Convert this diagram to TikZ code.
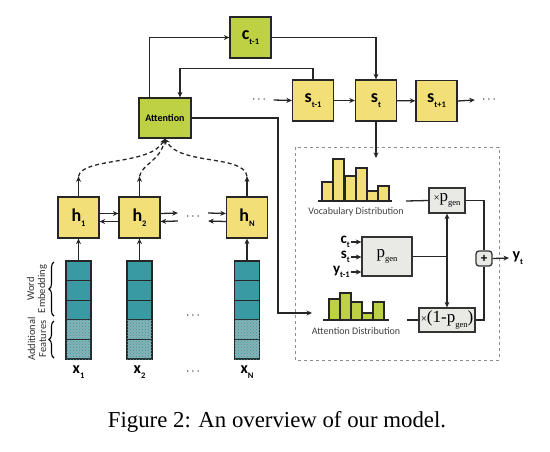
\documentclass[tikz,border=0pt]{standalone}
\usepackage{fontspec}
\setmainfont{Liberation Serif}
\newfontfamily\labelfont{Carlito}
\usetikzlibrary{arrows.meta,positioning,decorations.pathreplacing,patterns}
\definecolor{stateyellow}{HTML}{F2DF78}
\definecolor{attgreen}{HTML}{BDD143}
\definecolor{embteal}{HTML}{3A9AA4}
\definecolor{featgray}{HTML}{86B2B6}
\definecolor{gengray}{HTML}{E9E9E5}
\newcommand{\idx}[1]{\raisebox{-0.28em}{\fontsize{8.5}{8.5}\selectfont #1}}

\begin{document}
\begin{tikzpicture}[x=1pt, y=-1pt, font=\labelfont,
  statebox/.style={draw=black!85, line width=1.3pt, fill=stateyellow, minimum size=41pt, inner sep=0pt, font=\labelfont\bfseries\fontsize{18}{18}\selectfont},
  ctxbox/.style={statebox, fill=attgreen},
  gatebox/.style={draw=black!80, line width=1.3pt, fill=gengray, inner sep=0pt, font=\rmfamily\fontsize{17}{17}\selectfont},
  cell/.style={draw=black!85, line width=1.1pt, minimum width=25pt, minimum height=19.6pt, inner sep=0pt, fill=embteal},
  feat/.style={cell, fill=featgray, postaction={pattern=crosshatch dots, pattern color=embteal}},
  barbox/.style={draw=black!85, line width=1.2pt},
  conn/.style={line width=1.3pt, draw=black!85},
  arr/.style={conn, -{Stealth[length=5.5pt,width=5pt]}},
  dasharr/.style={arr, dash pattern=on 4pt off 3pt},
  dist/.style={font=\labelfont\fontsize{10}{10}\selectfont, text=black!75},
  sidelab/.style={rotate=90, align=center, font=\labelfont\fontsize{10.5}{11}\selectfont, text=black!80},
  inlab/.style={font=\labelfont\bfseries\fontsize{15}{15}\selectfont, inner sep=1pt},
  ellip/.style={font=\fontsize{12}{12}\selectfont}]
  \useasboundingbox (0,0) rectangle (550,451);

  % decoder side
  \node[ctxbox] (ctm) at (250.5,37.5) {c\idx{t-1}};
  \node[ctxbox, minimum width=52pt, minimum height=40pt, font=\labelfont\bfseries\fontsize{10}{10}\selectfont] (att) at (165,118) {Attention};
  \node[statebox] (stm) at (313,100.5) {s\idx{t-1}};
  \node[statebox] (st) at (376,100.5) {s\idx{t}};
  \node[statebox] (stp) at (436.5,101) {s\idx{t+1}};
  \node[ellip, inner xsep=7.5pt] (sdl) at (259,100) {$\cdots$};
  \node[ellip, inner xsep=7pt] (sdr) at (489,100) {$\cdots$};
  \draw[arr] (sdl.east) -- (stm.west);
  \draw[arr] (stm) -- (st);
  \draw[arr] (st) -- (stp);
  \draw[arr] (stp.east) -- (sdr.west);
  \draw[arr] ([xshift=11pt]att.north west) |- (ctm.west);
  \draw[arr] (ctm.east) -| (st.north);
  \coordinate (attin) at ([xshift=15pt]att.north);
  \draw[arr] (stm.north) -- ++(0,-11) -| (attin);

  % encoder side
  \node[statebox] (h1) at (78.5,217.5) {h\idx{1}};
  \node[statebox] (h2) at (139.5,217.5) {h\idx{2}};
  \node[statebox] (hN) at (247,217.5) {h\idx{N}};
  \node[ellip, inner xsep=8pt] (hdots) at (193,217) {$\cdots$};
  \draw[arr] ([yshift=4pt]h1.east) -- ([yshift=4pt]h2.west);
  \draw[arr] ([yshift=-4pt]h2.west) -- ([yshift=-4pt]h1.east);
  \draw[arr] ([yshift=4pt]h2.east) -- ([yshift=4pt]hdots.west);
  \draw[arr] ([yshift=-4pt]hdots.west) -- ([yshift=-4pt]h2.east);
  \draw[arr] ([yshift=4pt]hdots.east) -- ([yshift=4pt]hN.west);
  \draw[arr] ([yshift=-4pt]hN.west) -- ([yshift=-4pt]hdots.east);

  \foreach \i/\cx in {1/78.5, 2/139.5, N/247}{
    \foreach \k in {1,2,3}
      \node[cell] (v\i-\k) at (\cx,251.2+19.6*\k) {};
    \foreach \k in {4,5}
      \node[feat] (v\i-\k) at (\cx,251.2+19.6*\k) {};
    \draw[arr] (v\i-1.north) -- (h\i.south);
    \draw[arr] (h\i.north) -- ++(0,-20) coordinate (up\i);
    \node[font=\labelfont\bfseries\fontsize{16}{16}\selectfont] (x\i) at (\cx,372) {x\idx{\i}};
  }
  \node[ellip] (vdots) at (193,316) {$\cdots$};
  \node[ellip] (xdots) at (193,372) {$\cdots$};

  \draw[dasharr] (up1) .. controls +(3.5,-19) and +(-15,27) .. (att.south);
  \draw[dasharr] (up2) .. controls +(2.5,-12) and +(-5,22) .. (att.south);
  \draw[dasharr] (upN) .. controls +(-3,-22) and +(15,27) .. (att.south);

  \draw[decorate, decoration={brace, amplitude=5pt}, line width=1.1pt] (54,316) -- (54,262);
  \draw[decorate, decoration={brace, amplitude=5pt}, line width=1.1pt] (54,358) -- (54,321);
  \node[sidelab] (wordemb) at (37,289) {Word\\Embedding};
  \node[sidelab] (addfeat) at (37,339) {Additional\\Features};

  % generation part
  \draw[dashed, draw=black!45, line width=0.8pt] (295,147) rectangle (499,360);
  \foreach \xa/\top in {322/182, 333/159, 345/176, 356/168, 367/191, 378/186}
    \draw[barbox, fill=stateyellow] (\xa,201) rectangle ++(11,\top-201);
  \draw[barbox] (318,201) -- (392,201);
  \foreach \xa/\top in {329/299, 340/293, 351/302, 362/313, 373/302}
    \draw[barbox, fill=attgreen] (\xa,320) rectangle ++(11,\top-320);
  \draw[barbox] (323,320) -- (389,320);
  \node[dist] (voclab) at (356,212) {Vocabulary Distribution};
  \node[dist] (attlab) at (356,331) {Attention Distribution};
  \coordinate (vocin) at (376,158);
  \coordinate (vocout) at (406,201);
  \coordinate (attdist) at (312,313);
  \coordinate (attout) at (407,320);
  \draw[arr] (st.south) -- (vocin);
  \draw[arr] (att.east) -| ([xshift=-34pt]attdist) -- (attdist);

  \node[gatebox, minimum width=36pt, minimum height=25pt] (xpg) at (447,200.5) {{\fontsize{11}{11}\selectfont ×}p\idx{gen}};
  \node[gatebox, minimum width=50pt, minimum height=39pt] (pg) at (387,256.5) {p\idx{gen}};
  \node[gatebox, minimum width=56pt, minimum height=24pt] (xmpg) at (447,320) {{\fontsize{11}{11}\selectfont ×}(1-p\idx{gen})};
  \node[draw=black!80, line width=1.3pt, fill=gengray, rounded corners=3pt, minimum width=16pt, minimum height=15pt, inner sep=0pt, font=\labelfont\bfseries\fontsize{13}{13}\selectfont] (plus) at (484,258.5) {+};
  \node[font=\labelfont\bfseries\fontsize{16}{16}\selectfont, anchor=west] (yt) at (509,258) {y\idx{t}};
  \node[inlab, anchor=east] (inc) at (351,242) {c\idx{t}};
  \node[inlab, anchor=east] (ins) at (351,257) {s\idx{t}};
  \node[inlab, anchor=east] (iny) at (351,272) {y\idx{t-1}};
  \draw[arr] (inc.east) -- (inc.east -| pg.west);
  \draw[arr] (ins.east) -- (ins.east -| pg.west);
  \draw[arr] (iny.east) -- (iny.east -| pg.west);

  \draw[conn] (vocout) -- (xpg.west);
  \draw[conn] (attout) -- (xmpg.west);
  \draw[conn] (pg.east) -- (pg.east -| xpg.south) coordinate (split);
  \draw[arr] (split) -- (xpg.south);
  \draw[arr] (split) -- (split |- xmpg.north);
  \draw[conn] (xpg.east) -| (plus.north);
  \draw[conn] (xmpg.east) -| (plus.south);
  \draw[arr] (plus.east) -- (yt.west);

  \node[font=\rmfamily\fontsize{22.8}{26}\selectfont] (caption) at (277,422) {Figure 2: An overview of our model.};
\end{tikzpicture}
\end{document}
